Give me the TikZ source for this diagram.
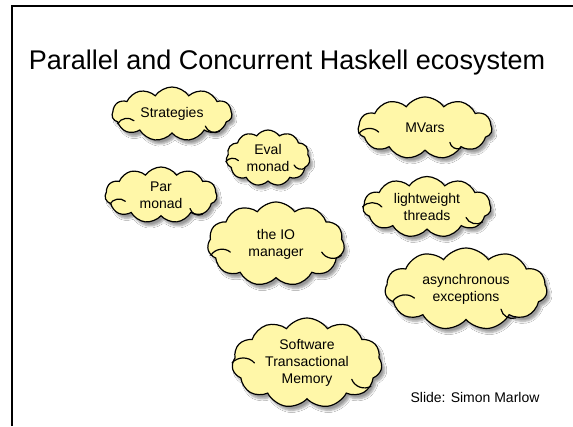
\documentclass[tikz,border=0pt]{standalone}
\usepackage{fontspec}
\setmainfont{Liberation Sans}
\usetikzlibrary{shapes.symbols,shadows.blur,calc}
\definecolor{cloudyellow}{RGB}{255,247,168}
% kleine Striche innen an der Wolke
\newcommand{\wisp}[2]{\draw[line width=1.2pt, line cap=round] (#1.#2) to[bend left=50] ($(#1.#2)!0.3!(#1.center)$);}
\begin{document}
\begin{tikzpicture}[x=1pt, y=-1pt,
    idea/.style={cloud, cloud puffs=11, cloud puff arc=110, draw=black, line width=1.2pt,
        fill=cloudyellow, inner sep=0pt,
        blur shadow={shadow xshift=3pt, shadow yshift=-4pt, shadow blur steps=6, shadow opacity=40}},
    ideatext/.style={align=center, font=\fontsize{14}{17}\selectfont}]
    \useasboundingbox[fill=white] (0,0) rectangle (573,426);
    % Rahmen der Folie
    \draw[line width=2pt] (12,426) -- (12,6) -- (573,6);
    % Titel
    \node[font=\fontsize{27}{32}\selectfont] (title) at (287,63) {Parallel and Concurrent Haskell ecosystem};
    % Wolken
    \node[idea, minimum width=120, minimum height=54] (strat) at (172,114) {};
    \node[idea, minimum width=84, minimum height=56] (eval) at (268,158) {};
    \node[idea, minimum width=134, minimum height=62] (mvars) at (425,128) {};
    \node[idea, minimum width=112, minimum height=56] (par) at (161,195) {};
    \node[idea, minimum width=137, minimum height=84] (io) at (276,244) {};
    \node[idea, minimum width=128, minimum height=61] (threads) at (427,207) {};
    \node[idea, minimum width=162, minimum height=82] (async) at (466,289) {};
    \node[idea, minimum width=150, minimum height=90] (stm) at (307,363) {};
    % Striche
    \foreach \c/\a in {strat/190, strat/-20, eval/185, eval/-15, mvars/185, mvars/-30,
                       par/190, par/-25, io/190, io/-10, threads/180, threads/-15,
                       async/190, async/-30, stm/180, stm/-20} {
        \wisp{\c}{\a}
    }
    % Texte in den Wolken
    \node[ideatext] (strat-t) at (strat) {Strategies};
    \node[ideatext] (eval-t) at (eval) {Eval\\monad};
    \node[ideatext] (mvars-t) at (mvars) {MVars};
    \node[ideatext] (par-t) at (par) {Par\\monad};
    \node[ideatext] (io-t) at (io) {the IO\\manager};
    \node[ideatext] (threads-t) at (threads) {lightweight\\threads};
    \node[ideatext] (async-t) at (async) {asynchronous\\exceptions};
    \node[ideatext] (stm-t) at (stm) {Software\\Transactional\\Memory};
    % Quelle
    \node[font=\fontsize{14}{17}\selectfont] (credit) at (475,397) {Slide: Simon Marlow};
\end{tikzpicture}
\end{document}
